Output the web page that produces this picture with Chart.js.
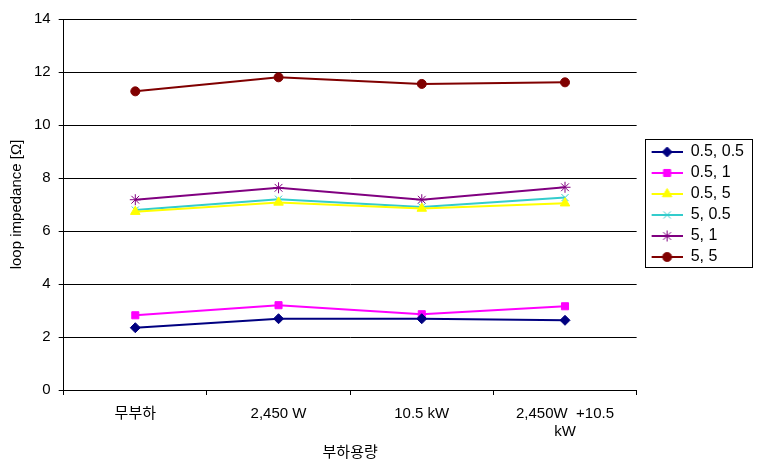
<!DOCTYPE html>
<html>
<head>
<meta charset="utf-8">
<script src="https://cdn.jsdelivr.net/npm/chart.js@4/dist/chart.umd.min.js"></script>
<style>
  html, body { margin: 0; padding: 0; background: #fff; }
  #wrap { width: 758px; height: 462px; }
</style>
</head>
<body>
<div id="wrap"><canvas id="myChart" width="758" height="462"></canvas></div>
<script>
const categories = ['무부하', '2,450 W', '10.5 kW', ['2,450W  +10.5', 'kW']];
const seriesNames = ['0.5, 0.5', '0.5, 1', '0.5, 5', '5, 0.5', '5, 1', '5, 5'];
const s05_05 = [2.35, 2.69, 2.69, 2.63];
const s05_1 = [2.82, 3.20, 2.86, 3.16];
const s05_5 = [6.73, 7.08, 6.85, 7.05];
const s5_05 = [6.79, 7.20, 6.91, 7.26];
const s5_1 = [7.18, 7.63, 7.18, 7.65];
const s5_5 = [11.27, 11.80, 11.55, 11.61];
const yTicks = [0, 2, 4, 6, 8, 10, 12, 14];

const fontFamily = 'Arial, "Liberation Sans", "Noto Sans CJK KR", sans-serif';

const styles = [
    { color: '#000080', fill: '#000080', point: 'rectRot', radius: 5 },
    { color: '#FF00FF', fill: '#FF00FF', point: 'rect', radius: 5 },
    { color: '#FFFF00', fill: '#FFFF00', point: 'triangle', radius: 5.5 },
    { color: '#33CCCC', fill: '#33CCCC', point: 'crossRot', radius: 5 },
    { color: '#800080', fill: '#800080', point: 'star', radius: 5.5 },
    { color: '#800000', fill: '#800000', point: 'circle', radius: 4.5 }
];
const values = [s05_05, s05_1, s05_5, s5_05, s5_1, s5_5];

// legend icon: short line with the marker in the middle (left part left blank)
const ICON_GAP = 10;
const ICON_LINE = 31;
function makeIcon(st) {
    const c = document.createElement('canvas');
    c.width = ICON_GAP + ICON_LINE;
    c.height = 14;
    const ctx = c.getContext('2d');
    ctx.strokeStyle = st.color;
    ctx.lineWidth = 2;
    ctx.beginPath();
    ctx.moveTo(ICON_GAP, 7);
    ctx.lineTo(ICON_GAP + ICON_LINE, 7);
    ctx.stroke();
    ctx.fillStyle = st.fill;
    ctx.strokeStyle = st.color;
    ctx.lineWidth = 1;
    Chart.helpers.drawPoint(ctx, { pointStyle: st.point, radius: st.radius, rotation: 0, borderWidth: 1 }, ICON_GAP + ICON_LINE / 2, 7);
    return c;
}

const datasets = seriesNames.map(function (name, i) {
    const st = styles[i];
    return {
        label: name,
        data: values[i],
        borderColor: st.color,
        backgroundColor: st.fill,
        borderWidth: 2,
        pointStyle: st.point,
        pointRadius: st.radius,
        pointBorderWidth: 1,
        pointBorderColor: st.color,
        pointBackgroundColor: st.fill,
        tension: 0
    };
});

// draws the frame around the legend
const legendBorder = {
    id: 'legendBorder',
    afterDraw(chart) {
        const lg = chart.legend;
        if (!lg || !lg.legendHitBoxes.length) return;
        const boxes = lg.legendHitBoxes;
        const first = boxes[0];
        const last = boxes[boxes.length - 1];
        const top = first.top + first.height / 2 - 13;
        const bottom = last.top + last.height / 2 + 10;
        const left = lg.left + 8;
        const right = lg.right - 2;
        const ctx = chart.ctx;
        ctx.save();
        ctx.strokeStyle = '#000';
        ctx.lineWidth = 1;
        ctx.strokeRect(Math.round(left) + 0.5, Math.round(top) + 0.5, Math.round(right - left), Math.round(bottom - top));
        ctx.restore();
    }
};

new Chart(document.getElementById('myChart'), {
    type: 'line',
    data: { labels: categories, datasets: datasets },
    options: {
        responsive: false,
        animation: false,
        layout: { padding: { top: 19, right: 4, bottom: 0, left: 4 } },
        plugins: {
            tooltip: { enabled: false },
            legend: {
                position: 'right',
                fullSize: false,
                align: 'center',
                labels: {
                    usePointStyle: true,
                    pointStyleWidth: ICON_GAP + ICON_LINE,
                    padding: 5,
                    color: '#000',
                    font: { family: fontFamily, size: 16 },
                    generateLabels(chart) {
                        return chart.data.datasets.map(function (ds, i) {
                            return {
                                text: ds.label,
                                pointStyle: makeIcon(styles[i]),
                                fillStyle: styles[i].fill,
                                strokeStyle: styles[i].color,
                                lineWidth: 0,
                                hidden: false,
                                datasetIndex: i
                            };
                        });
                    }
                }
            }
        },
        scales: {
            x: {
                offset: true,
                grid: { display: true, drawOnChartArea: false, offset: true, color: '#000', tickLength: 5 },
                border: { color: '#000', width: 1 },
                ticks: { color: '#000', padding: 10, maxRotation: 0, font: { family: fontFamily, size: 15, lineHeight: 1.2 } },
                title: { display: true, text: '부하용량', color: '#000', padding: { top: -7, bottom: 0 }, font: { family: fontFamily, size: 15 } }
            },
            y: {
                min: 0,
                max: 14,
                afterBuildTicks(axis) { axis.ticks = yTicks.map(function (v) { return { value: v }; }); },
                grid: { color: '#000', tickLength: 5 },
                border: { color: '#000', width: 1 },
                ticks: { color: '#000', padding: 8, font: { family: fontFamily, size: 15 } },
                title: { display: true, text: 'loop impedance [Ω]', color: '#000', padding: { top: 4, bottom: 0 }, font: { family: fontFamily, size: 15 } }
            }
        }
    },
    plugins: [legendBorder]
});
</script>
</body>
</html>
